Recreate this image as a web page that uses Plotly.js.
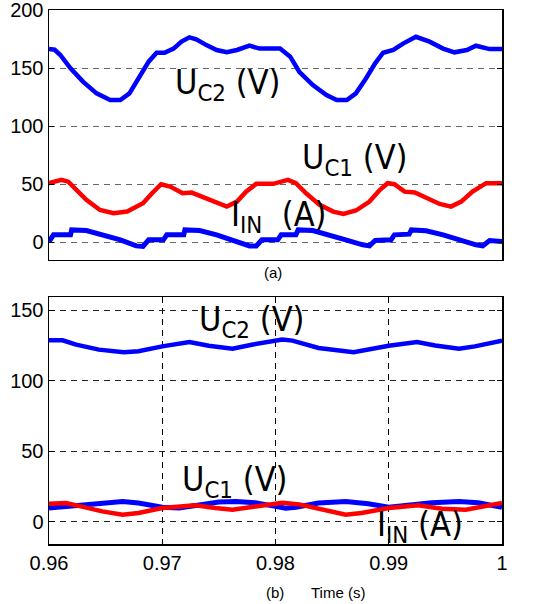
<!DOCTYPE html>
<html>
<head>
<meta charset="utf-8">
<script src="https://cdn.plot.ly/plotly-3.0.1.min.js"></script>
<style>html,body{margin:0;padding:0;background:#fff;}#chart{width:543px;height:604px;}</style>
</head>
<body>
<div id="chart"></div>
<script>
// ---------- Panel (a) ----------
const tA_uc2 = [0.9600,0.9605,0.9610,0.9619,0.9630,0.9642,0.9654,0.9663,0.9671,0.9680,0.9688,0.9695,0.9702,0.9710,0.9717,0.9724,0.9730,0.9739,0.9748,0.9757,0.9766,0.9777,0.9786,0.9804,0.9813,0.9821,0.9833,0.9845,0.9854,0.9863,0.9871,0.9880,0.9888,0.9895,0.9904,0.9913,0.9924,0.9936,0.9948,0.9958,0.9969,0.9977,0.9989,1.0000];
const vA_uc2 = [166.6,166.0,161.5,150.0,138.5,128.4,122.7,122.7,128.4,142.8,155.7,163.4,163.4,167.0,173.0,176.7,175.0,170.0,165.8,163.8,165.8,169.5,167.0,167.0,160.0,147.0,135.6,127.0,122.7,122.7,128.4,141.4,154.3,163.4,165.8,171.5,177.2,173.0,167.0,163.8,165.8,169.5,166.6,166.6];

const tA_uc1 = [0.9600,0.9611,0.9617,0.9624,0.9633,0.9645,0.9657,0.9669,0.9683,0.9691,0.9699,0.9707,0.9718,0.9726,0.9736,0.9748,0.9757,0.9766,0.9774,0.9783,0.9798,0.9811,0.9818,0.9827,0.9839,0.9851,0.9860,0.9871,0.9883,0.9892,0.9899,0.9905,0.9914,0.9923,0.9933,0.9945,0.9955,0.9964,0.9974,0.9986,1.0000];
const vA_uc1 = [50.9,53.7,52.2,45.0,36.5,27.8,25.0,26.4,33.6,42.2,50.0,48.0,42.2,42.8,38.8,33.6,30.7,35.0,43.6,50.3,50.3,53.7,50.9,42.2,32.2,26.4,24.4,27.3,35.0,45.0,50.9,50.0,43.6,42.8,37.9,33.0,30.7,35.0,43.6,50.9,50.9];

const tA_iin = [0.9600,0.9604,0.9619,0.9620,0.9633,0.9648,0.9663,0.9677,0.9683,0.9688,0.9701,0.9704,0.9719,0.9720,0.9733,0.9748,0.9763,0.9777,0.9783,0.9788,0.9802,0.9805,0.9818,0.9820,0.9833,0.9848,0.9862,0.9877,0.9883,0.9888,0.9902,0.9905,0.9918,0.9920,0.9933,0.9948,0.9962,0.9977,0.9983,0.9989,1.0000];
const vA_iin = [0.5,6.3,6.3,10.6,10.0,6.3,2.0,-3.2,-3.7,2.0,2.0,6.3,6.3,10.6,10.0,6.3,1.4,-3.2,-3.2,2.0,2.0,6.3,6.3,10.6,10.0,6.3,2.0,-2.3,-3.2,1.4,2.0,6.3,6.9,10.6,9.8,6.3,2.0,-2.3,-3.2,1.4,0.5];

// ---------- Panel (b) ----------
const tB_uc2 = [0.9600,0.9612,0.9624,0.9644,0.9666,0.9679,0.9700,0.9724,0.9741,0.9762,0.9779,0.9806,0.9815,0.9838,0.9869,0.9879,0.9900,0.9925,0.9941,0.9962,0.9976,1.0000];
const vB_uc2 = [128.8,128.8,125.7,122.2,120.3,121.0,124.5,127.6,125.0,122.9,125.7,129.3,128.6,123.4,120.3,121.7,125.0,127.6,125.2,122.9,124.5,128.6];

const tB_iin = [0.9600,0.9615,0.9632,0.9647,0.9665,0.9679,0.9700,0.9715,0.9732,0.9750,0.9765,0.9782,0.9800,0.9809,0.9818,0.9838,0.9862,0.9882,0.9900,0.9918,0.9938,0.9962,0.9979,1.0000];
const vB_iin = [9.9,11.1,12.3,13.5,14.6,13.5,10.4,9.9,12.3,14.2,14.6,13.7,11.1,9.7,10.4,13.5,14.6,13.0,10.4,11.8,13.7,14.6,13.7,10.4];

const tB_uc1 = [0.9600,0.9615,0.9632,0.9647,0.9665,0.9679,0.9700,0.9729,0.9747,0.9762,0.9779,0.9806,0.9821,0.9841,0.9862,0.9876,0.9900,0.9926,0.9947,0.9968,0.9985,1.0000];
const vB_uc1 = [13.0,13.5,10.4,7.5,5.2,6.4,9.9,11.8,9.9,8.7,10.6,13.7,12.5,8.7,5.2,6.4,9.9,11.8,9.4,8.7,11.1,13.5];

const xTicks = [0.96,0.97,0.98,0.99,1];
const xTickText = ['0.96','0.97','0.98','0.99','1'];
const yTicksA = [0,50,100,150,200];
const yTicksB = [0,50,100,150];

const BLUE = '#0000ff', RED = '#ff0000';
const traces = [
  {x:tA_uc2, y:vA_uc2, xaxis:'x2', yaxis:'y2', mode:'lines', line:{color:BLUE, width:4.5}},
  {x:tA_uc1, y:vA_uc1, xaxis:'x2', yaxis:'y2', mode:'lines', line:{color:RED, width:4.5}},
  {x:tA_iin, y:vA_iin, xaxis:'x2', yaxis:'y2', mode:'lines', line:{color:BLUE, width:5}},
  {x:tB_uc2, y:vB_uc2, xaxis:'x', yaxis:'y', mode:'lines', line:{color:BLUE, width:4.5}},
  {x:tB_iin, y:vB_iin, xaxis:'x', yaxis:'y', mode:'lines', line:{color:BLUE, width:5}},
  {x:tB_uc1, y:vB_uc1, xaxis:'x', yaxis:'y', mode:'lines', line:{color:RED, width:4.5}}
];

const FAM = "'Liberation Sans', Arial, sans-serif";
const COND = "'DejaVu Sans Condensed', 'Liberation Sans', sans-serif";
function tickFont(){ return {family:FAM, size:20, color:'#000'}; }
function annFont(){ return {family:COND, size:34, color:'#000'}; }
function smallFont(){ return {family:FAM, size:15, color:'#000'}; }

const layout = {
  width:543, height:604,
  margin:{l:49, r:41, t:10, b:60},
  paper_bgcolor:'#fff', plot_bgcolor:'#fff',
  showlegend:false,
  xaxis:{domain:[0,1], anchor:'y', range:[0.96,1], tickvals:xTicks, ticktext:xTickText,
    tickfont:tickFont(), ticks:'inside', ticklen:5, tickcolor:'#000', ticklabeloverflow:'allow',
    showline:true, linecolor:'#000', linewidth:1.5, mirror:'ticks',
    showgrid:true, gridcolor:'#000', gridwidth:1, griddash:'6px,5px', zeroline:false},
  yaxis:{domain:[0,0.4625], anchor:'x', range:[-15.6,159.5], tickvals:yTicksB,
    tickfont:tickFont(), ticks:'inside', ticklen:5, tickcolor:'#000', ticklabeloverflow:'allow',
    showline:true, linecolor:'#000', linewidth:1.5, mirror:'ticks',
    showgrid:true, gridcolor:'#222', gridwidth:1, griddash:'6px,5px', zeroline:false},
  xaxis2:{domain:[0,1], anchor:'y2', range:[0.96,1], showticklabels:false, ticks:'',
    showline:true, linecolor:'#000', linewidth:1.5, mirror:true, showgrid:false, zeroline:false},
  yaxis2:{domain:[0.532,1], anchor:'x2', range:[-15.3,200.3], tickvals:yTicksA,
    tickfont:tickFont(), ticks:'inside', ticklen:5, tickcolor:'#000', ticklabeloverflow:'allow',
    showline:true, linecolor:'#000', linewidth:1.5, mirror:'ticks',
    showgrid:true, gridcolor:'#666', gridwidth:1.2, griddash:'6px,5px', zeroline:false},
  annotations:[
    {xref:'x2', yref:'y2', x:0.9758, y:136, text:'U<sub>C2</sub>&nbsp;(V)', showarrow:false, font:annFont()},
    {xref:'x2', yref:'y2', x:0.9870, y:71, text:'U<sub>C1</sub>&nbsp;(V)', showarrow:false, font:annFont()},
    {xref:'x2', yref:'y2', x:0.9803, y:22, text:'I<sub>IN</sub>&nbsp;&nbsp;(A)', showarrow:false, font:annFont()},
    {xref:'x', yref:'y', x:0.9779, y:142, text:'U<sub>C2</sub>&nbsp;(V)', showarrow:false, font:annFont()},
    {xref:'x', yref:'y', x:0.9764, y:28.5, text:'U<sub>C1</sub>&nbsp;(V)', showarrow:false, font:annFont()},
    {xref:'x', yref:'y', x:0.9928, y:-3, text:'I<sub>IN</sub>&nbsp;(A)', showarrow:false, font:annFont()},
    {xref:'paper', yref:'paper', x:0.4945, y:0.5075, xanchor:'center', yanchor:'middle', text:'(a)', showarrow:false, font:smallFont()},
    {xref:'paper', yref:'paper', x:0.4989, y:-0.0899, xanchor:'center', yanchor:'middle', text:'(b)', showarrow:false, font:smallFont()},
    {xref:'paper', yref:'paper', x:0.638, y:-0.0899, xanchor:'center', yanchor:'middle', text:'Time (s)', showarrow:false, font:smallFont()}
  ]
};

Plotly.newPlot('chart', traces, layout, {displayModeBar:false, staticPlot:true});
</script>
</body>
</html>
